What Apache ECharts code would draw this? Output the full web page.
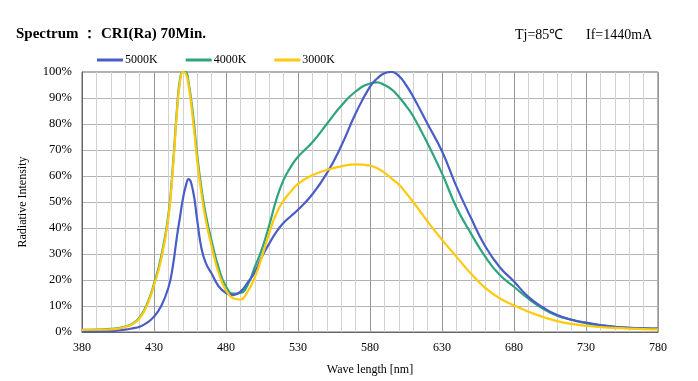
<!DOCTYPE html>
<html>
<head>
<meta charset="utf-8">
<script src="https://cdn.jsdelivr.net/npm/echarts@6/dist/echarts.min.js"></script>
<style>
html,body{margin:0;padding:0;background:#fff;}
#c{width:698px;height:381px;}
</style>
</head>
<body>
<div id="c"></div>
<script>
const wavelengths = [380,390,400,405,410,415,420,425,430,435,440,443,446,448,450,452,454,457,460,463,466,470,475,480,485,490,495,500,505,510,515,520,525,530,540,550,560,570,580,585,590,595,600,605,610,620,630,640,650,660,670,680,690,700,710,720,730,740,750,760,770,780];
const s5000K = [0.2,0.2,0.4,0.6,0.9,1.4,2.0,3.5,5.9,10,17,25,37,44,51,56,58.8,54.5,43,32,26.5,22.5,17.5,15,14.2,15.5,19,23,29,34,38.5,42,44.5,47,53,61,71.5,84,94.4,97.5,99.5,100,98.5,95,90.5,80,69.5,56,44,33,25,19.4,13.5,9.5,6.5,4.7,3.6,2.7,2.0,1.6,1.4,1.3];
const s4000K = [0.8,0.9,1.2,1.5,2.1,3.2,5.6,10.5,18.5,29,45,63,86,97,100,100,96,84,68,55,45,35,24.5,17.5,14.8,15,18,25,32,41,51,58.5,63.5,67.4,73,80,87,92.5,95.6,96,95,93.3,90.5,87,83,72.5,61,48,38,29,22,17.4,12.8,9,6.3,4.7,3.4,2.5,2.0,1.6,1.4,1.3];
const s3000K = [0.8,0.9,1.0,1.3,2.0,3.0,5.3,10,18,28,44,62,85,96,100,99.5,95,82,66,53,43,33,22.5,16,13,12.5,15.5,21,29,38,45.6,50.5,54,57,60.3,62.3,63.7,64.5,64,63,61.3,59,56.7,53.5,50,42.5,35.5,29,22.5,17,13,10.2,7.8,5.8,4.2,3.1,2.4,1.9,1.6,1.3,1.1,1.0];
const seriesNames = ['5000K','4000K','3000K'];
const seriesColors = ['#4a5cc6','#2ea47e','#ffc90e'];

const pairs = arr => wavelengths.map((w,i)=>[w, arr[i]]);
const font = '"Liberation Serif","Times New Roman",serif';

const chart = echarts.init(document.getElementById('c'), null, {renderer:'canvas'});
chart.setOption({
  animation:false,
  backgroundColor:'#fff',
  title:[
    {text:'Spectrum ： CRI(Ra) 70Min.', left:11, top:22, textStyle:{fontFamily:font,fontSize:15,fontWeight:'bold',color:'#000'}},
    {text:'Tj=85℃', left:510, top:23, textStyle:{fontFamily:font,fontSize:14,fontWeight:'normal',color:'#000'}},
    {text:'If=1440mA', left:581, top:23, textStyle:{fontFamily:font,fontSize:14,fontWeight:'normal',color:'#000'}}
  ],
  legend:{
    data:seriesNames, left:92, top:49, itemWidth:26, itemHeight:3, itemGap:28,
    icon:'rect',
    textStyle:{fontFamily:font,fontSize:12,color:'#000',padding:[0,0,0,-3]}
  },
  grid:{left:82, right:40, top:72, bottom:49, show:true, borderColor:'#666', borderWidth:1},
  xAxis:{
    type:'value', min:380, max:780, interval:50,
    name:'Wave length [nm]', nameLocation:'middle', nameGap:32,
    nameTextStyle:{fontFamily:font,fontSize:12,color:'#000'},
    axisLine:{show:true,lineStyle:{color:'#666'}},
    axisTick:{show:false},
    axisLabel:{fontFamily:font,fontSize:12,color:'#000',margin:10},
    splitLine:{show:true,lineStyle:{color:'#999',width:1}},
    minorTick:{show:false,splitNumber:5},
    minorSplitLine:{show:true,lineStyle:{color:'#d2d2d2',width:1}}
  },
  yAxis:{
    type:'value', min:0, max:100, interval:10,
    name:'Radiative Intensity', nameLocation:'middle', nameGap:53,
    nameTextStyle:{fontFamily:font,fontSize:12,color:'#000'},
    axisLine:{show:true,lineStyle:{color:'#666'}},
    axisTick:{show:false},
    axisLabel:{fontFamily:font,fontSize:12.5,color:'#000',formatter:'{value}%',margin:10},
    splitLine:{show:true,lineStyle:{color:'#b4b4b4',width:1}}
  },
  series:[
    {name:seriesNames[0], type:'line', data:pairs(s5000K), smooth:0.5, showSymbol:false, lineStyle:{width:2.2,color:seriesColors[0]}, itemStyle:{color:seriesColors[0]}, z:3},
    {name:seriesNames[1], type:'line', data:pairs(s4000K), smooth:0.5, showSymbol:false, lineStyle:{width:2.2,color:seriesColors[1]}, itemStyle:{color:seriesColors[1]}, z:2},
    {name:seriesNames[2], type:'line', data:pairs(s3000K), smooth:0.5, showSymbol:false, lineStyle:{width:2.2,color:seriesColors[2]}, itemStyle:{color:seriesColors[2]}, z:4}
  ]
});
</script>
</body>
</html>
